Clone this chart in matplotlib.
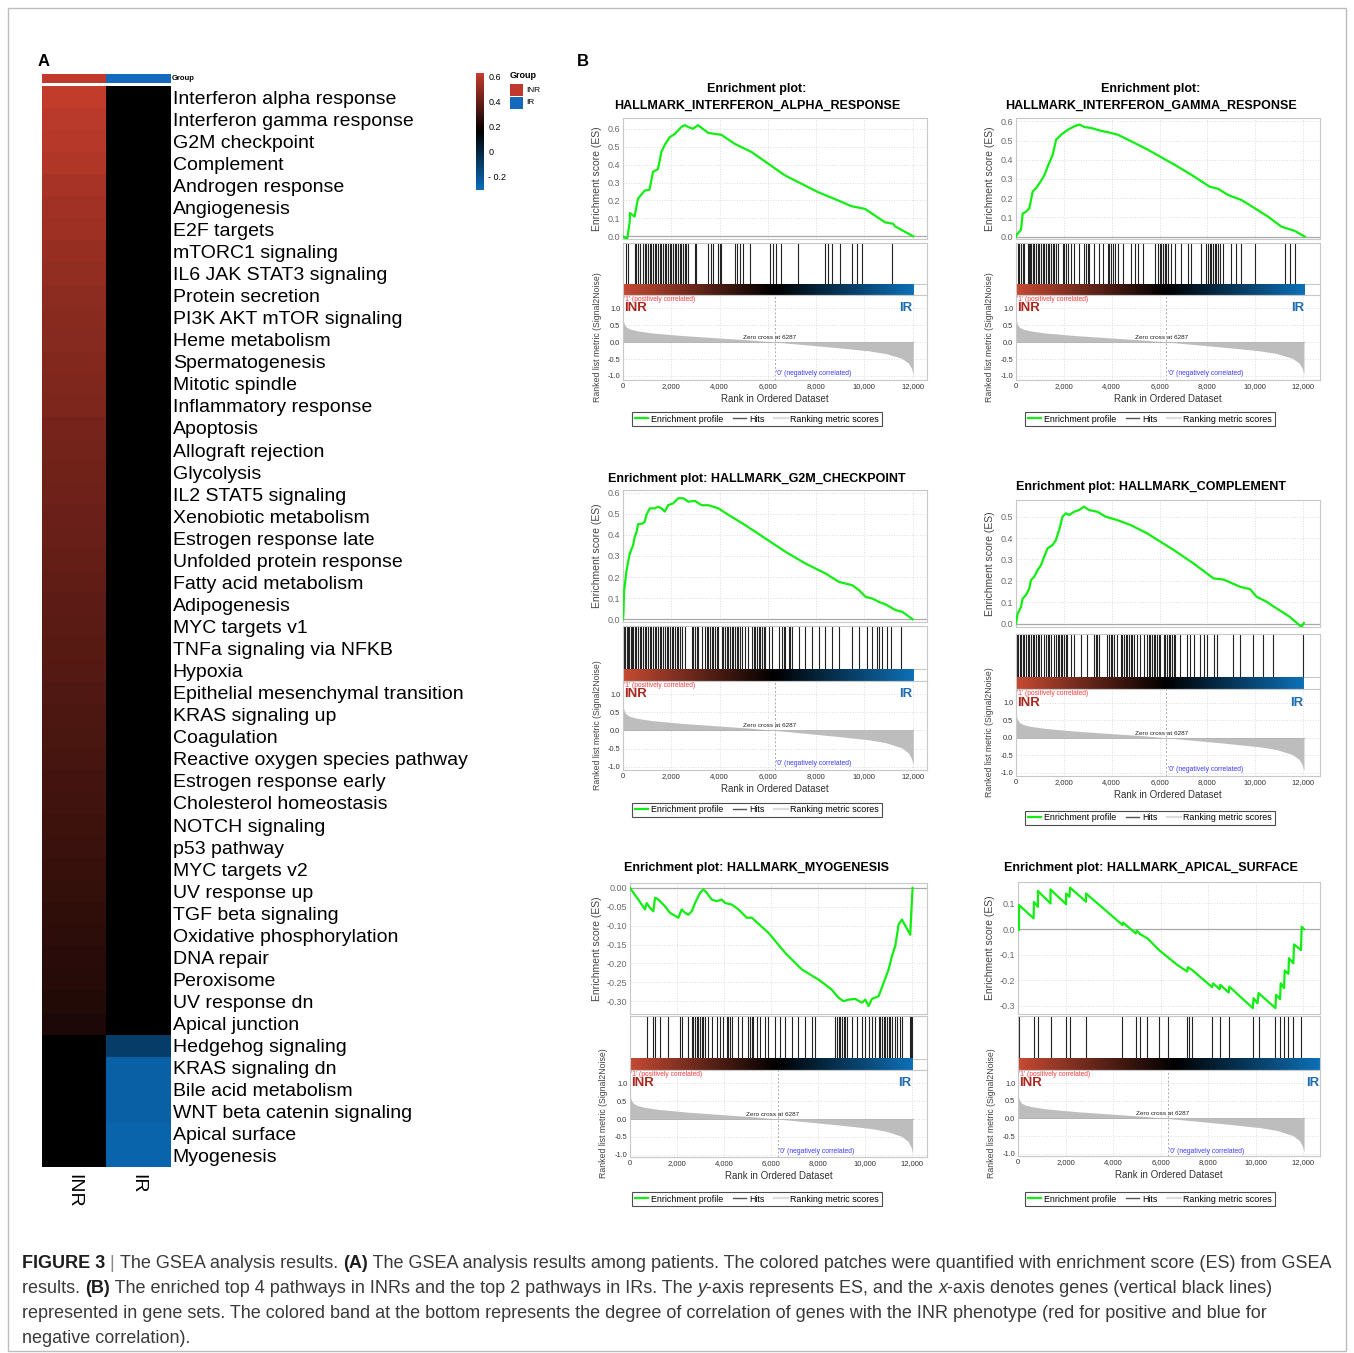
import numpy as np
import matplotlib
matplotlib.use("Agg")
import matplotlib.pyplot as plt
from matplotlib.colors import LinearSegmentedColormap, ListedColormap, Normalize, TwoSlopeNorm
from matplotlib.cm import ScalarMappable
from matplotlib.lines import Line2D
from matplotlib.patches import Rectangle
from matplotlib import font_manager

W, H = 1354, 1353
plt.rcParams['font.family'] = ['Liberation Sans', 'DejaVu Sans']

# ---------------- panel A: heatmap of enrichment scores ----------------
pathways = ["Interferon alpha response", "Interferon gamma response", "G2M checkpoint",
            "Complement", "Androgen response", "Angiogenesis", "E2F targets",
            "mTORC1 signaling", "IL6 JAK STAT3 signaling", "Protein secretion",
            "PI3K AKT mTOR signaling", "Heme metabolism", "Spermatogenesis",
            "Mitotic spindle", "Inflammatory response", "Apoptosis", "Allograft rejection",
            "Glycolysis", "IL2 STAT5 signaling", "Xenobiotic metabolism",
            "Estrogen response late", "Unfolded protein response", "Fatty acid metabolism",
            "Adipogenesis", "MYC targets v1", "TNFa signaling via NFKB", "Hypoxia",
            "Epithelial mesenchymal transition", "KRAS signaling up", "Coagulation",
            "Reactive oxygen species pathway", "Estrogen response early",
            "Cholesterol homeostasis", "NOTCH signaling", "p53 pathway", "MYC targets v2",
            "UV response up", "TGF beta signaling", "Oxidative phosphorylation",
            "DNA repair", "Peroxisome", "UV response dn", "Apical junction",
            "Hedgehog signaling", "KRAS signaling dn", "Bile acid metabolism",
            "WNT beta catenin signaling", "Apical surface", "Myogenesis"]
inr_es = [0.61, 0.58, 0.57, 0.55, 0.52, 0.50, 0.49, 0.47, 0.46, 0.44, 0.43, 0.42, 0.41,
          0.40, 0.39, 0.37, 0.36, 0.35, 0.34, 0.33, 0.32, 0.31, 0.30, 0.29, 0.28, 0.27,
          0.26, 0.25, 0.24, 0.23, 0.22, 0.21, 0.20, 0.19, 0.18, 0.17, 0.16, 0.15, 0.14,
          0.13, 0.12, 0.11, 0.09, 0, 0, 0, 0, 0, 0]
ir_es = [0] * 43 + [-0.14, -0.22, -0.22, -0.22, -0.23, -0.23]
groups = ["INR", "IR"]
cbar_ticks = [0.6, 0.4, 0.2, 0, -0.2]
cbar_labels = ["0.6", "0.4", "0.2", "0", "- 0.2"]

# ---------------- panel B: GSEA enrichment plots ----------------
metric_rank = [0, 20, 60, 140, 300, 600, 1200, 2500, 4000, 5300, 6287, 7400, 8800,
               10200, 10900, 11550, 11830, 11960, 12030]
metric_val = [0.72, 0.62, 0.52, 0.44, 0.38, 0.33, 0.27, 0.19, 0.12, 0.06, 0.0, -0.07,
              -0.16, -0.26, -0.34, -0.48, -0.62, -0.78, -0.95]
zero_cross = 6287

ifna_rank = [0, 100, 180, 277, 290, 480, 620, 900, 1100, 1245, 1450, 1590, 1730, 1935,
             2140, 2420, 2560, 2700, 2900, 3110, 3530, 4080, 4630, 5330, 6710, 8090, 8920,
             9470, 10030, 10860, 11200, 11270, 12030]
ifna_es = [0.0, -0.01, -0.01, 0.08, 0.13, 0.11, 0.21, 0.255, 0.26, 0.36, 0.375, 0.47,
           0.51, 0.553, 0.57, 0.61, 0.62, 0.61, 0.60, 0.62, 0.577, 0.566, 0.516, 0.47,
           0.34, 0.246, 0.20, 0.168, 0.153, 0.078, 0.07, 0.056, 0.0]
ifna_hits = [138, 207, 484, 553, 622, 691, 830, 899, 968, 1037, 1106, 1176, 1245, 1314,
             1383, 1452, 1521, 1590, 1660, 1729, 1798, 1867, 1936, 2005, 2074, 2144, 2213,
             2282, 2351, 2420, 2489, 2559, 2628, 2697, 2973, 3043, 3527, 3665, 3734, 3942,
             4011, 4080, 4633, 4744, 4841, 4979, 5255, 6085, 6224, 6362, 6569, 7261, 8367,
             8478, 8644, 8990, 9474, 9681, 9889, 11133]

ifng_rank = [0, 70, 209, 279, 419, 558, 698, 837, 1046, 1186, 1325, 1535, 1674, 1883,
             2093, 2302, 2441, 2651, 2860, 3139, 3557, 3836, 4255, 4813, 5510, 6626, 7324,
             8091, 8440, 8858, 9416, 9974, 10532, 11090, 11648, 12067]
ifng_es = [0.0, 0.017, 0.035, 0.12, 0.13, 0.148, 0.235, 0.252, 0.29, 0.32, 0.365, 0.426,
           0.504, 0.53, 0.55, 0.565, 0.574, 0.583, 0.57, 0.565, 0.55, 0.543, 0.53, 0.496,
           0.452, 0.374, 0.322, 0.26, 0.249, 0.217, 0.191, 0.148, 0.104, 0.052, 0.03, 0.0]
ifng_hits = [70, 140, 209, 279, 349, 488, 530, 586, 628, 698, 767, 837, 907, 977, 1046,
             1116, 1186, 1256, 1325, 1395, 1465, 1535, 1604, 1674, 1744, 1953, 2023, 2093,
             2162, 2302, 2441, 2651, 2860, 2930, 2999, 3069, 3278, 3488, 3627, 3836, 3906,
             3976, 4046, 4115, 4255, 4464, 4813, 4952, 5092, 5301, 5789, 5929, 5999, 6068,
             6138, 6208, 6236, 6278, 6347, 6487, 6626, 6905, 7184, 7324, 7742, 7952, 8021,
             8091, 8161, 8231, 8300, 8370, 8440, 8510, 8649, 8998, 9207, 9416, 9974, 11230,
             11439, 11676]

g2m_rank = [0, 20, 42, 139, 208, 277, 416, 485, 555, 624, 832, 902, 971, 1110, 1318, 1456,
            1595, 1734, 1872, 2081, 2289, 2497, 2705, 2982, 3260, 3537, 3953, 4369, 5063,
            5895, 6727, 7560, 8392, 8947, 9502, 9779, 10056, 10334, 10611, 10888, 11304,
            11581, 12000]
g2m_es = [0.0, 0.035, 0.13, 0.225, 0.27, 0.31, 0.35, 0.39, 0.41, 0.45, 0.454, 0.462, 0.494,
          0.525, 0.525, 0.533, 0.525, 0.51, 0.54, 0.549, 0.573, 0.573, 0.557, 0.56, 0.54,
          0.54, 0.525, 0.494, 0.446, 0.383, 0.32, 0.264, 0.217, 0.177, 0.161, 0.138, 0.106,
          0.098, 0.082, 0.07, 0.043, 0.035, 0.0]
g2m_hits = [42, 97, 153, 208, 264, 319, 374, 430, 485, 555, 624, 694, 763, 832, 902, 971,
            1040, 1110, 1179, 1248, 1318, 1387, 1456, 1526, 1595, 1664, 1734, 1803, 1872,
            1942, 2011, 2081, 2150, 2219, 2289, 2358, 2427, 2566, 2843, 2913, 2982, 3051,
            3121, 3259, 3398, 3468, 3537, 3606, 3676, 3745, 3814, 3884, 3953, 4092, 4161,
            4230, 4300, 4369, 4438, 4508, 4577, 4646, 4716, 4785, 4855, 4924, 5063, 5201,
            5340, 5409, 5479, 5548, 5617, 5687, 5756, 5825, 5895, 6033, 6172, 6450, 6588,
            6658, 6727, 6866, 6935, 7004, 7282, 7559, 7837, 8114, 8391, 8669, 8946, 9501,
            9778, 10125, 10333, 10541, 10611, 10749, 10957, 11096, 11512]

comp_rank = [0, 69, 208, 277, 416, 555, 624, 763, 902, 1040, 1179, 1318, 1526, 1664, 1803,
             1942, 2081, 2220, 2428, 2636, 2843, 3051, 3398, 3745, 4230, 4785, 5479, 6588,
             7420, 8253, 8669, 9362, 9778, 10056, 10472, 10749, 11443, 11928, 12025]
comp_es = [0.0, 0.047, 0.078, 0.117, 0.133, 0.164, 0.203, 0.219, 0.25, 0.273, 0.313, 0.352,
           0.367, 0.39, 0.438, 0.5, 0.516, 0.508, 0.523, 0.531, 0.547, 0.531, 0.523, 0.5,
           0.484, 0.461, 0.422, 0.344, 0.281, 0.211, 0.206, 0.172, 0.161, 0.125, 0.102,
           0.081, 0.031, -0.016, 0.003]
comp_hits = [42, 97, 153, 208, 277, 347, 416, 485, 555, 624, 694, 763, 832, 902, 971, 1040,
             1179, 1248, 1318, 1387, 1456, 1595, 1664, 1734, 1803, 1872, 1942, 2011, 2081,
             2150, 2289, 2427, 2705, 2982, 3259, 3329, 3398, 3468, 3814, 3884, 3953, 4022,
             4092, 4230, 4369, 4438, 4508, 4577, 4646, 4716, 4785, 4855, 4924, 5063, 5201,
             5340, 5479, 5548, 5617, 5687, 5756, 5825, 5895, 5964, 6033, 6172, 6242, 6311,
             6380, 6450, 6519, 6588, 6658, 6866, 7143, 7282, 7420, 7698, 7837, 7975, 8253,
             8391, 9085, 9362, 9917, 10333, 10749, 11970]

myo_rank = [0, 355, 639, 710, 852, 994, 1065, 1207, 1349, 1491, 1704, 2059, 2201, 2343,
            2485, 2627, 2769, 2982, 3124, 3266, 3479, 3692, 3905, 4047, 4331, 4615, 4970,
            5183, 5893, 6603, 7313, 8023, 8307, 8591, 8875, 9088, 9301, 9585, 9869, 10011,
            10153, 10295, 10579, 10792, 11005, 11147, 11289, 11431, 11573, 11928, 11971, 12027]
myo_es = [0.0, -0.031, -0.057, -0.04, -0.053, -0.062, -0.026, -0.031, -0.04, -0.049,
          -0.066, -0.079, -0.057, -0.066, -0.071, -0.062, -0.04, -0.013, -0.004, -0.013,
          -0.031, -0.035, -0.031, -0.04, -0.044, -0.057, -0.079, -0.079, -0.119, -0.172,
          -0.216, -0.243, -0.256, -0.27, -0.291, -0.30, -0.296, -0.294, -0.304, -0.296,
          -0.313, -0.294, -0.287, -0.252, -0.216, -0.181, -0.154, -0.097, -0.084, -0.124,
          -0.066, 0.0]
myo_hits = [710, 994, 1065, 1278, 1633, 2130, 2201, 2485, 2627, 2698, 2769, 2840, 2911, 2982,
            3053, 3124, 3195, 3337, 3479, 3692, 3834, 3976, 4118, 4189, 4260, 4331, 4615,
            4757, 5041, 5112, 5183, 5254, 5396, 5538, 5751, 5893, 6177, 6390, 6603, 6887,
            7171, 7455, 7739, 7881, 8733, 8804, 8875, 8946, 9017, 9088, 9159, 9230, 9443,
            9656, 9869, 10011, 10153, 10295, 10437, 10579, 10650, 10721, 10792, 10863, 10934,
            11005, 11076, 11147, 11289, 11360, 11502, 11573, 11928, 11971, 12000]

apical_rank = [0, 42, 42, 656, 670, 837, 837, 1367, 1367, 2023, 2023, 2162, 2190, 2860, 2860,
               4394, 4422, 4952, 4994, 5120, 5440, 5929, 6696, 7115, 7142, 7324, 8161, 8203,
               8482, 8510, 8858, 8886, 9876, 9905, 10072, 10114, 10825, 10853, 11020, 11048,
               11188, 11216, 11369, 11397, 11579, 11607, 11900, 11928, 12025]
apical_es = [0.0, -0.004, 0.094, 0.042, 0.106, 0.087, 0.149, 0.1, 0.155, 0.097, 0.139,
             0.126, 0.162, 0.107, 0.139, 0.016, 0.025, -0.017, -0.006, -0.019, -0.036, -0.082,
             -0.14, -0.166, -0.149, -0.16, -0.227, -0.212, -0.235, -0.218, -0.248, -0.225,
             -0.309, -0.27, -0.29, -0.25, -0.309, -0.257, -0.274, -0.212, -0.231, -0.162,
             -0.175, -0.114, -0.134, -0.06, -0.082, 0.009, 0.0]
apical_hits = [42, 656, 837, 1367, 2023, 2190, 2860, 4394, 4952, 5120, 5440, 5929, 6319,
               7115, 7184, 7324, 8161, 8482, 8858, 9876, 10114, 10825, 11020, 11188, 11369,
               11579, 11900]

# ---------------- styling ----------------
RED = "#c63d2d"
BLUE = "#0b6dbb"
GROUP_RED = "#c0392b"
GROUP_BLUE = "#1469bd"
GREEN = "#11ee11"
FRAME = "#c8c8c8"
GRID = "#dcdcdc"

heat_cmap = LinearSegmentedColormap.from_list("heat", [BLUE, "#000000", RED])
band_cmap = LinearSegmentedColormap.from_list(
    "band", [(0, "#c54a33"), (0.52, "#000000"), (1, "#0e70b7")])

fig = plt.figure(figsize=(W / 100, H / 100), dpi=100)


def box(x0, y0, x1, y1):
    return [x0 / W, 1 - y1 / H, (x1 - x0) / W, (y1 - y0) / H]


def ftext(x, y, s, **kw):
    return fig.text(x / W, 1 - y / H, s, **kw)


# outer frame
fig.add_artist(Rectangle((8 / W, 1 - 1351 / H), 1338 / W, 1343 / H, transform=fig.transFigure,
                         facecolor="none", edgecolor="#bdbdbd", lw=1.0))

ftext(44, 62, "A", fontsize=12, fontweight="bold", ha="center", va="center")
ftext(583, 62, "B", fontsize=12, fontweight="bold", ha="center", va="center")

# ---- heatmap
ax_g = fig.add_axes(box(42, 74, 170, 83))
ax_g.imshow([[0, 1]], cmap=ListedColormap([GROUP_RED, GROUP_BLUE]), aspect="auto")
ax_g.axis("off")
ftext(172, 79, "Group", fontsize=5.5, fontweight="bold", va="center")

ax_h = fig.add_axes(box(42, 86, 170, 1167))
heat = np.column_stack([inr_es, ir_es])
ax_h.imshow(heat, cmap=heat_cmap, norm=TwoSlopeNorm(vmin=-0.25, vcenter=0, vmax=0.62),
            aspect="auto", interpolation="nearest")
ax_h.set_yticks(range(len(pathways)))
ax_h.set_yticklabels(pathways, fontsize=14)
ax_h.yaxis.tick_right()
ax_h.set_xticks(range(len(groups)))
ax_h.set_xticklabels(groups, fontsize=14, rotation=270, va="top")
ax_h.tick_params(axis="y", length=0, pad=2)
ax_h.tick_params(axis="x", length=0, pad=5)
for sp in ax_h.spines.values():
    sp.set_visible(False)

# ---- colour bar + group legend
ax_c = fig.add_axes(box(476, 73, 484, 190))
cb = fig.colorbar(ScalarMappable(norm=Normalize(-0.303, 0.624), cmap=heat_cmap), cax=ax_c,
                  ticks=cbar_ticks)
cb.ax.set_yticklabels(cbar_labels, fontsize=6.5)
cb.ax.tick_params(length=0, pad=3)
cb.outline.set_visible(False)

ftext(510, 76, "Group", fontsize=6.5, fontweight="bold", va="center")
for i, (g, c) in enumerate(zip(groups, [GROUP_RED, GROUP_BLUE])):
    y0 = 84 + i * 13
    fig.add_artist(Rectangle((510 / W, 1 - (y0 + 12) / H), 13 / W, 12 / H,
                             transform=fig.transFigure, facecolor=c, edgecolor="none"))
    ftext(526, y0 + 6, g, fontsize=6, va="center")


# ---- GSEA panels
def gsea_panel(p, es_rank, es_val, hits):
    left, right = p["left"], p["right"]
    xmax = p["xmax"]
    xt = list(range(0, 12001, 2000))

    # title
    for s, ty in zip(p["title"], p["ty"]):
        ftext(p["tx"], ty, s, fontsize=9, fontweight="bold", ha="center", va="center")

    # running enrichment score
    ax = fig.add_axes(box(left, p["es_top"], right, p["es_bot"]))
    ax.plot(es_rank, es_val, color=GREEN, lw=1.6, zorder=3)
    ax.axhline(0, color="#a8a8a8", lw=0.9, zorder=2)
    ax.set_xlim(0, xmax)
    ax.set_ylim(*p["es_ylim"])
    ax.set_xticks(xt)
    ax.set_xticklabels([])
    ax.set_yticks(p["es_ticks"])
    ax.set_yticklabels([p["fmt"] % v for v in p["es_ticks"]], fontsize=6.5, color="#6a6a6a")
    ax.tick_params(length=0, pad=2)
    ax.grid(True, ls=":", color=GRID, lw=0.7)
    for sp in ax.spines.values():
        sp.set_color(FRAME)
        sp.set_linewidth(0.8)
    ftext(p["lab_x"], (p["es_top"] + p["es_bot"]) / 2, "Enrichment score (ES)", fontsize=7.5,
          color="#444444", rotation=90, ha="center", va="center")

    # hits + coloured band
    ah = fig.add_axes(box(left, p["hit_top"], right, p["hit_bot"]))
    band_h = 0.21
    ah.vlines(hits, band_h, 1, color="#222222", lw=0.8)
    grad = np.linspace(0, 1, 256).reshape(1, -1)
    ah.imshow(grad, extent=(0, p["band_end"], 0, band_h), aspect="auto", cmap=band_cmap,
              zorder=2)
    ah.axhline(band_h, color=FRAME, lw=0.8, zorder=1)
    ah.set_xlim(0, xmax)
    ah.set_ylim(0, 1)
    ah.set_xticks([])
    ah.set_yticks([])
    for sp in ah.spines.values():
        sp.set_color(FRAME)
        sp.set_linewidth(0.8)

    # ranked list metric
    am = fig.add_axes(box(left, p["hit_bot"], right, p["met_bot"]))
    am.fill_between(metric_rank, metric_val, 0, color="#bdbdbd", lw=0, zorder=2)
    am.axhline(0, xmax=metric_rank[-1] / xmax, color="#b0b0b0", lw=0.6, zorder=2)
    am.axvline(zero_cross, color="#aaaaaa", lw=0.7, ls=(0, (2, 2)), zorder=1)
    am.set_xlim(0, xmax)
    am.set_ylim(*p["met_ylim"])
    am.set_xticks(xt)
    am.set_xticklabels(["{:,}".format(v) for v in xt], fontsize=5.5, color="#333333")
    am.set_yticks([1.0, 0.5, 0.0, -0.5, -1.0])
    am.set_yticklabels(["1.0", "0.5", "0.0", "-0.5", "-1.0"], fontsize=5.3, color="#333333")
    am.tick_params(length=0, pad=2)
    am.grid(True, ls=":", color=GRID, lw=0.7)
    for sp in am.spines.values():
        sp.set_color(FRAME)
        sp.set_linewidth(0.8)
    am.set_xlabel("Rank in Ordered Dataset", fontsize=7, color="#333333", labelpad=3)
    top = p["met_ylim"][1]
    am.text(40, top - 0.03, "'1' (positively correlated)", fontsize=4.8, color="#ff3b3b",
            va="top", ha="left")
    am.text(60, 1.0, "INR", fontsize=9.5, fontweight="bold", color="#a8281e", va="center",
            ha="left")
    am.text(p["band_end"] - 40, 1.0, "IR", fontsize=9.5, fontweight="bold", color="#1f6db0",
            va="center", ha="right")
    am.text(zero_cross - 200, 0.06, "Zero cross at %d" % zero_cross, fontsize=4.6,
            color="#222222", va="bottom", ha="center", zorder=3)
    am.text(zero_cross + 60, -0.92, "'0' (negatively correlated)", fontsize=4.9,
            color="#3a3aff", va="center", ha="left", zorder=3)
    ftext(p["met_lab_x"], (p["hit_bot"] + p["met_bot"]) / 2,
          "Ranked list metric (Signal2Noise)", fontsize=6.3, color="#444444", rotation=90,
          ha="center", va="center")

    # legend box
    handles = [Line2D([], [], color=GREEN, lw=1.6), Line2D([], [], color="#555555", lw=1.0),
               Line2D([], [], color="#dddddd", lw=1.6)]
    leg = fig.legend(handles, ["Enrichment profile", "Hits", "Ranking metric scores"],
                     loc="center", bbox_to_anchor=(p["leg_x"] / W, 1 - p["leg_y"] / H),
                     ncol=3, fontsize=6.4, frameon=True, fancybox=False, edgecolor="#222222",
                     handlelength=1.5, handletextpad=0.3, columnspacing=1.1, borderpad=0.3,
                     borderaxespad=0)
    leg.get_frame().set_linewidth(0.8)


es01 = [0.0, 0.1, 0.2, 0.3, 0.4, 0.5, 0.6]
panels = [
    (dict(title=["Enrichment plot:", "HALLMARK_INTERFERON_ALPHA_RESPONSE"], ty=[89, 106],
          tx=757, left=623, right=927, es_top=118, es_bot=239, hit_top=243, hit_bot=295,
          met_bot=380, es_ylim=(-0.015, 0.66), es_ticks=es01, fmt="%.1f",
          met_ylim=(-1.12, 1.39), xmax=12600, band_end=12030, lab_x=597, met_lab_x=597,
          leg_x=757, leg_y=419), ifna_rank, ifna_es, ifna_hits),
    (dict(title=["Enrichment plot:", "HALLMARK_INTERFERON_GAMMA_RESPONSE"], ty=[89, 106],
          tx=1151, left=1016, right=1320, es_top=118, es_bot=239, hit_top=243, hit_bot=295,
          met_bot=380, es_ylim=(-0.012, 0.617), es_ticks=es01, fmt="%.1f",
          met_ylim=(-1.12, 1.39), xmax=12700, band_end=12067, lab_x=990, met_lab_x=990,
          leg_x=1150, leg_y=419), ifng_rank, ifng_es, ifng_hits),
    (dict(title=["Enrichment plot: HALLMARK_G2M_CHECKPOINT"], ty=[479],
          tx=757, left=623, right=927, es_top=490, es_bot=622, hit_top=626, hit_bot=681,
          met_bot=770, es_ylim=(-0.013, 0.612), es_ticks=es01, fmt="%.1f",
          met_ylim=(-1.09, 1.36), xmax=12600, band_end=12030, lab_x=597, met_lab_x=597,
          leg_x=757, leg_y=810), g2m_rank, g2m_es, g2m_hits),
    (dict(title=["Enrichment plot: HALLMARK_COMPLEMENT"], ty=[487],
          tx=1151, left=1016, right=1320, es_top=500, es_bot=627, hit_top=634, hit_bot=689,
          met_bot=776, es_ylim=(-0.016, 0.578), es_ticks=es01[:6], fmt="%.1f",
          met_ylim=(-1.095, 1.40), xmax=12700, band_end=12030, lab_x=990, met_lab_x=990,
          leg_x=1150, leg_y=818), comp_rank, comp_es, comp_hits),
    (dict(title=["Enrichment plot: HALLMARK_MYOGENESIS"], ty=[868],
          tx=757, left=630, right=927, es_top=883, es_bot=1014, hit_top=1016, hit_bot=1070,
          met_bot=1157, es_ylim=(-0.334, 0.013),
          es_ticks=[0.0, -0.05, -0.10, -0.15, -0.20, -0.25, -0.30], fmt="%.2f",
          met_ylim=(-1.06, 1.37), xmax=12640, band_end=12030, lab_x=597, met_lab_x=604,
          leg_x=757, leg_y=1199), myo_rank, myo_es, myo_hits),
    (dict(title=["Enrichment plot: HALLMARK_APICAL_SURFACE"], ty=[868],
          tx=1151, left=1018, right=1320, es_top=882, es_bot=1014, hit_top=1016, hit_bot=1070,
          met_bot=1156, es_ylim=(-0.332, 0.184), es_ticks=[0.1, 0.0, -0.1, -0.2, -0.3],
          fmt="%.1f", met_ylim=(-1.06, 1.37), xmax=12700, band_end=12700, lab_x=990,
          met_lab_x=992, leg_x=1150, leg_y=1199), apical_rank, apical_es, apical_hits),
]
for p, r, e, h in panels:
    gsea_panel(p, r, e, h)

# ---------------- caption ----------------
names = {f.name for f in font_manager.fontManager.ttflist}
cap_family = "Liberation Sans Narrow" if "Liberation Sans Narrow" in names else "Liberation Sans"
renderer = fig.canvas.get_renderer()


def cap_kw(size, style):
    kw = dict(fontsize=size, family=cap_family, color="#3a3a3a", va="baseline", ha="left")
    if style == "b":
        kw.update(fontweight="bold", color="#1e1e1e")
    elif style == "i":
        kw.update(fontstyle="italic")
    elif style == "g":
        kw.update(color="#8a8a8a")
    return kw


def run_width(s, size, style):
    kw = cap_kw(size, style)
    t1 = fig.text(0, 0, "x" + s + "x", **kw)
    t2 = fig.text(0, 0, "xx", **kw)
    w = t1.get_window_extent(renderer).width - t2.get_window_extent(renderer).width
    t1.remove()
    t2.remove()
    return w


caption = [
    [("FIGURE 3", "b"), (" | ", "g"), ("The GSEA analysis results. ", "n"), ("(A)", "b"),
     (" The GSEA analysis results among patients. The colored patches were quantified "
      "with enrichment score (ES) from GSEA", "n")],
    [("results. ", "n"), ("(B)", "b"),
     (" The enriched top 4 pathways in INRs and the top 2 pathways in IRs. The ", "n"),
     ("y", "i"), ("-axis represents ES, and the ", "n"), ("x", "i"),
     ("-axis denotes genes (vertical black lines)", "n")],
    [("represented in gene sets. The colored band at the bottom represents the degree of "
      "correlation of genes with the INR phenotype (red for positive and blue for", "n")],
    [("negative correlation).", "n")],
]
base = 12.0
w1 = sum(run_width(s, base, st) for s, st in caption[0])
cap_size = base * 1308 / w1
for k, line in enumerate(caption):
    x = 22.0
    y = 1268 + 25 * k
    for s, st in line:
        ftext(x, y, s, **cap_kw(cap_size, st))
        x += run_width(s, cap_size, st)

fig.savefig("out.png", dpi=100)
